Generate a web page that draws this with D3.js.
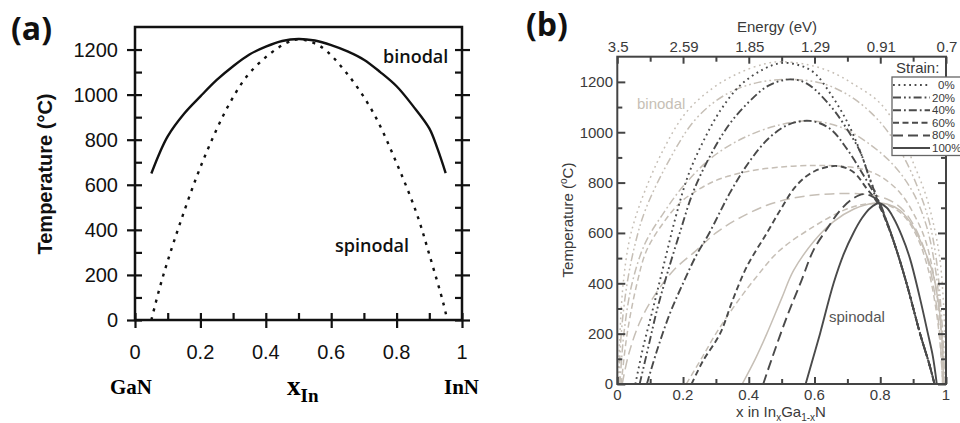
<!DOCTYPE html>
<html>
<head>
<meta charset="utf-8">
<script src="https://cdn.jsdelivr.net/npm/d3@7"></script>
<style>
  body { margin: 0; background: #fff; }
  svg { display: block; }
</style>
</head>
<body>
<div id="chart"></div>
<script>
// ---- panel (a) data: [x, T] ----
let aBinodal = [[0.05,650],[0.075,740],[0.1,815],[0.15,915],[0.2,992],[0.25,1065],[0.3,1126],[0.35,1178],[0.4,1213],[0.45,1238],[0.5,1247],[0.55,1240],[0.6,1220],[0.65,1192],[0.7,1155],[0.75,1100],[0.8,1037],[0.85,950],[0.9,850],[0.925,760],[0.95,652]];
let aSpinodal = [[0.05,0],[0.075,140],[0.1,262],[0.138,430],[0.189,637],[0.24,815],[0.29,963],[0.342,1081],[0.403,1170],[0.464,1230],[0.5,1245],[0.566,1215],[0.647,1096],[0.729,919],[0.8,696],[0.861,474],[0.902,281],[0.943,74],[0.955,0]];
let aXTicks = [0, 0.2, 0.4, 0.6, 0.8, 1];
let aYTicks = [0, 200, 400, 600, 800, 1000, 1200];

// ---- panel (b) data ----
let strainLabels = ["0%", "20%", "40%", "60%", "80%", "100%"];
let energyLabels = ["3.5", "2.59", "1.85", "1.29", "0.91", "0.7"];
let bXTicks = [0, 0.2, 0.4, 0.6, 0.8, 1];
let bYTicks = [0, 200, 400, 600, 800, 1000, 1200];

let spinodal0 = [[0.055,0],[0.079,148],[0.105,281],[0.13,413],[0.155,546],[0.18,675],[0.216,830],[0.262,965],[0.313,1085],[0.373,1185],[0.444,1250],[0.5,1275],[0.556,1265],[0.6,1235],[0.65,1150],[0.7,1040],[0.74,920],[0.77,810],[0.795,725],[0.82,640],[0.85,530],[0.881,395],[0.922,196],[0.95,75],[0.965,0]];
let spinodal20 = [[0.068,0],[0.095,150],[0.12,290],[0.15,430],[0.19,600],[0.23,760],[0.28,900],[0.34,1030],[0.4,1120],[0.46,1185],[0.525,1210],[0.577,1193],[0.647,1107],[0.698,1014],[0.739,922],[0.769,810],[0.795,725],[0.82,640],[0.85,530],[0.881,395],[0.922,196],[0.95,75],[0.965,0]];
let spinodal40 = [[0.09,0],[0.12,130],[0.16,280],[0.2,400],[0.24,510],[0.28,600],[0.343,760],[0.4,880],[0.46,975],[0.52,1030],[0.587,1045],[0.647,1014],[0.698,935],[0.749,829],[0.79,736],[0.82,645],[0.85,530],[0.881,395],[0.922,196],[0.95,75],[0.965,0]];
let spinodal60 = [[0.226,0],[0.26,90],[0.313,201],[0.35,330],[0.394,466],[0.455,600],[0.5,700],[0.546,790],[0.6,845],[0.668,866],[0.718,842],[0.759,776],[0.79,723],[0.82,640],[0.85,530],[0.881,395],[0.922,196],[0.95,75],[0.965,0]];
let spinodal80 = [[0.444,0],[0.47,100],[0.516,267],[0.56,410],[0.597,532],[0.64,620],[0.678,690],[0.715,735],[0.749,754],[0.775,745],[0.795,725],[0.82,645],[0.85,530],[0.881,395],[0.922,196],[0.95,75],[0.965,0]];
let spinodal100 = [[0.573,0],[0.595,100],[0.617,201],[0.658,400],[0.69,520],[0.718,599],[0.745,660],[0.769,698],[0.795,718],[0.82,700],[0.84,660],[0.865,590],[0.89,500],[0.92,345],[0.945,200],[0.96,110],[0.972,0]];

let binodal0 = [[0.003,0],[0.008,200],[0.018,400],[0.035,560],[0.055,660],[0.085,770],[0.136,920],[0.207,1075],[0.29,1175],[0.37,1235],[0.45,1272],[0.5,1280],[0.58,1268],[0.65,1240],[0.72,1190],[0.8,1115],[0.86,1000],[0.9,880],[0.94,745],[0.967,605],[0.982,490],[0.992,330],[0.997,160],[1.0,0]];
let binodal20 = [[0.005,0],[0.012,200],[0.03,400],[0.055,560],[0.085,690],[0.15,870],[0.237,1050],[0.33,1150],[0.42,1195],[0.525,1210],[0.62,1195],[0.7,1150],[0.77,1080],[0.83,990],[0.88,880],[0.92,760],[0.95,640],[0.97,500],[0.983,330],[0.992,150],[0.996,0]];
let binodal40 = [[0.008,0],[0.02,200],[0.045,400],[0.085,560],[0.136,670],[0.2,785],[0.288,900],[0.38,975],[0.49,1028],[0.587,1045],[0.68,1020],[0.76,960],[0.84,870],[0.9,760],[0.94,630],[0.965,480],[0.98,320],[0.99,150],[0.994,0]];
let binodal60 = [[0.012,0],[0.03,200],[0.06,400],[0.089,530],[0.14,640],[0.191,720],[0.25,775],[0.313,815],[0.4,845],[0.5,862],[0.6,868],[0.668,866],[0.74,855],[0.8,825],[0.86,760],[0.9,680],[0.935,580],[0.96,450],[0.978,300],[0.988,150],[0.992,0]];
let binodal80 = [[0.015,0],[0.035,120],[0.07,250],[0.115,355],[0.17,450],[0.237,527],[0.3,600],[0.359,650],[0.455,710],[0.55,742],[0.65,755],[0.749,754],[0.82,735],[0.87,690],[0.91,610],[0.945,490],[0.968,340],[0.982,180],[0.99,0]];
let binodalExtra = [[0.21,0],[0.26,110],[0.3,200],[0.359,315],[0.42,420],[0.491,527],[0.597,625],[0.698,695],[0.76,715],[0.82,712],[0.87,670],[0.91,590],[0.945,460],[0.968,310],[0.982,160],[0.99,0]];
let binodal100 = [[0.38,0],[0.42,100],[0.455,200],[0.5,340],[0.536,450],[0.6,570],[0.658,645],[0.72,695],[0.78,718],[0.82,715],[0.86,690],[0.9,625],[0.935,530],[0.96,440],[0.977,320],[0.987,190],[0.993,0]];

let spinodals = [spinodal0, spinodal20, spinodal40, spinodal60, spinodal80, spinodal100];
let binodals = [binodal0, binodal20, binodal40, binodal60, binodal80, binodal100];

// line styles per strain
let dashes = ["1.8,3.6", "8,3,1.8,3,1.8,3", "8,3,1.8,3", "6,3.5", "10,5", null];
let darkColor = "#4a4a4a";
let grayColor = "#c6bfb6";

let svg = d3.select("#chart").append("svg")
  .attr("width", 960)
  .attr("height", 423);

// ================= panel (a) =================
let ax = d3.scaleLinear().domain([0, 1]).range([135, 462]);
let ay = d3.scaleLinear().domain([0, 1300]).range([320, 27]);
let ga = svg.append("g");

let aLine = d3.line()
  .x(d => ax(d[0]))
  .y(d => ay(d[1]))
  .curve(d3.curveCatmullRom.alpha(0.5));

ga.append("path").datum(aBinodal)
  .attr("d", aLine)
  .attr("fill", "none")
  .attr("stroke", "#111")
  .attr("stroke-width", 2.4);

ga.append("path").datum(aSpinodal)
  .attr("d", aLine)
  .attr("fill", "none")
  .attr("stroke", "#111")
  .attr("stroke-width", 2.4)
  .attr("stroke-dasharray", "3,6");

// frame
ga.append("rect")
  .attr("x", ax(0)).attr("y", ay(1300))
  .attr("width", ax(1) - ax(0)).attr("height", ay(0) - ay(1300))
  .attr("fill", "none").attr("stroke", "#111").attr("stroke-width", 2.5);

// ticks (a): major ones cross the frame, minor ones inside
let aMinorX = d3.range(0.1, 1, 0.2);
let aMinorY = d3.range(100, 1300, 200);
ga.append("g").attr("transform", `translate(0,${ay(0)})`)
  .call(d3.axisBottom(ax).tickValues(aXTicks).tickSize(8).tickFormat(""))
  .call(g => g.select(".domain").remove());
ga.append("g").attr("transform", `translate(0,${ay(0)})`)
  .call(d3.axisBottom(ax).tickValues(aXTicks.concat(aMinorX)).tickSize(-7).tickFormat(""))
  .call(g => g.select(".domain").remove());
ga.append("g").attr("transform", `translate(${ax(0)},0)`)
  .call(d3.axisLeft(ay).tickValues(aYTicks).tickSize(8).tickFormat(""))
  .call(g => g.select(".domain").remove());
ga.append("g").attr("transform", `translate(${ax(0)},0)`)
  .call(d3.axisLeft(ay).tickValues(aYTicks.concat(aMinorY)).tickSize(-7).tickFormat(""))
  .call(g => g.select(".domain").remove());
ga.append("g").attr("transform", `translate(${ax(1)},0)`)
  .call(d3.axisRight(ay).tickValues(aYTicks).tickSize(8).tickFormat(""))
  .call(g => g.select(".domain").remove());
ga.append("g").attr("transform", `translate(${ax(1)},0)`)
  .call(d3.axisRight(ay).tickValues(aYTicks.concat(aMinorY)).tickSize(-7).tickFormat(""))
  .call(g => g.select(".domain").remove());
ga.selectAll(".tick line").attr("stroke", "#111").attr("stroke-width", 2.2);

// tick labels (a)
ga.selectAll(".ylab").data(aYTicks).enter().append("text")
  .attr("x", 118).attr("y", d => ay(d)).attr("dy", "0.36em")
  .attr("text-anchor", "end")
  .attr("font-family", "Liberation Sans, Arial, sans-serif")
  .attr("font-size", 20).attr("fill", "#111")
  .text(d => d);
ga.selectAll(".xlab").data(aXTicks).enter().append("text")
  .attr("x", d => ax(d)).attr("y", 359)
  .attr("text-anchor", "middle")
  .attr("font-family", "Liberation Sans, Arial, sans-serif")
  .attr("font-size", 20).attr("fill", "#111")
  .text(d => d);

ga.append("text")
  .attr("transform", "translate(52,174) rotate(-90)")
  .attr("text-anchor", "middle")
  .attr("font-family", "Liberation Sans, Arial, sans-serif")
  .attr("font-size", 20).attr("font-weight", "bold").attr("fill", "#111")
  .text("Temperature (°C)");

let serif = "Liberation Serif, Times New Roman, serif";
ga.append("text").attr("x", 110).attr("y", 394)
  .attr("font-family", serif).attr("font-weight", "bold").attr("font-size", 21)
  .text("GaN");
ga.append("text").attr("x", 444).attr("y", 394)
  .attr("font-family", serif).attr("font-weight", "bold").attr("font-size", 21)
  .text("InN");
let xIn = ga.append("text").attr("x", 287).attr("y", 395)
  .attr("font-family", serif).attr("font-weight", "bold").attr("font-size", 27);
xIn.append("tspan").text("x");
xIn.append("tspan").attr("dy", 7).attr("font-size", 19).text("In");

ga.append("text").attr("x", 383).attr("y", 63)
  .attr("font-family", "Open Sans, sans-serif").attr("font-weight", 600)
  .attr("font-size", 18).attr("fill", "#111").text("binodal");
ga.append("text").attr("x", 335).attr("y", 252)
  .attr("font-family", "Open Sans, sans-serif").attr("font-weight", 600)
  .attr("font-size", 18).attr("fill", "#111").text("spinodal");

svg.append("text").attr("x", 11).attr("y", 40)
  .attr("font-family", "Open Sans, sans-serif").attr("font-weight", "bold")
  .attr("font-size", 32).attr("fill", "#111").text("(a)");

// ================= panel (b) =================
let bx = d3.scaleLinear().domain([0, 1]).range([617.3, 946]);
let by = d3.scaleLinear().domain([0, 1300]).range([384, 56.7]);
let gb = svg.append("g");

svg.append("defs").append("clipPath").attr("id", "clipb")
  .append("rect")
  .attr("x", bx(0)).attr("y", by(1300))
  .attr("width", bx(1) - bx(0)).attr("height", by(0) - by(1300));

let bLine = d3.line()
  .x(d => bx(d[0]))
  .y(d => by(d[1]))
  .curve(d3.curveCatmullRom.alpha(0.5));

let curves = gb.append("g").attr("clip-path", "url(#clipb)");

// binodals (light)
binodals.forEach((b, i) => {
  curves.append("path").datum(b)
    .attr("d", bLine)
    .attr("fill", "none")
    .attr("stroke", grayColor)
    .attr("stroke-width", 1.5)
    .attr("stroke-dasharray", dashes[i]);
});
curves.append("path").datum(binodalExtra)
  .attr("d", bLine)
  .attr("fill", "none")
  .attr("stroke", grayColor)
  .attr("stroke-width", 1.5)
  .attr("stroke-dasharray", "6,3.5");

// spinodals (dark)
spinodals.forEach((s, i) => {
  curves.append("path").datum(s)
    .attr("d", bLine)
    .attr("fill", "none")
    .attr("stroke", darkColor)
    .attr("stroke-width", 1.9)
    .attr("stroke-dasharray", dashes[i]);
});

// frame
gb.append("rect")
  .attr("x", bx(0)).attr("y", by(1300))
  .attr("width", bx(1) - bx(0)).attr("height", by(0) - by(1300))
  .attr("fill", "none").attr("stroke", "#444").attr("stroke-width", 2);

// ticks (b), all inward
let bMinorX = d3.range(0.1, 1, 0.2);
let bMinorY = d3.range(100, 1300, 200);
let tickG = gb.append("g");
tickG.append("g").attr("transform", `translate(0,${by(0)})`)
  .call(d3.axisBottom(bx).tickValues(bXTicks).tickSize(-7).tickFormat(""));
tickG.append("g").attr("transform", `translate(0,${by(0)})`)
  .call(d3.axisBottom(bx).tickValues(bMinorX).tickSize(-5).tickFormat(""));
tickG.append("g").attr("transform", `translate(0,${by(1300)})`)
  .call(d3.axisTop(bx).tickValues(bXTicks).tickSize(-7).tickFormat(""));
tickG.append("g").attr("transform", `translate(0,${by(1300)})`)
  .call(d3.axisTop(bx).tickValues(bMinorX).tickSize(-5).tickFormat(""));
tickG.append("g").attr("transform", `translate(${bx(0)},0)`)
  .call(d3.axisLeft(by).tickValues(bYTicks).tickSize(-8).tickFormat(""));
tickG.append("g").attr("transform", `translate(${bx(0)},0)`)
  .call(d3.axisLeft(by).tickValues(bMinorY).tickSize(-5).tickFormat(""));
tickG.append("g").attr("transform", `translate(${bx(1)},0)`)
  .call(d3.axisRight(by).tickValues(bYTicks).tickSize(-8).tickFormat(""));
tickG.append("g").attr("transform", `translate(${bx(1)},0)`)
  .call(d3.axisRight(by).tickValues(bMinorY).tickSize(-5).tickFormat(""));
tickG.selectAll(".domain").remove();
tickG.selectAll(".tick line").attr("stroke", "#444").attr("stroke-width", 2);

let sans = "Liberation Sans, Arial, sans-serif";
let txtColor = "#3a3a3a";

gb.selectAll(".bylab").data(bYTicks).enter().append("text")
  .attr("x", 613).attr("y", d => by(d)).attr("dy", "0.36em")
  .attr("text-anchor", "end")
  .attr("font-family", sans).attr("font-size", 15).attr("fill", txtColor)
  .text(d => d);
gb.selectAll(".bxlab").data(bXTicks).enter().append("text")
  .attr("x", d => bx(d)).attr("y", 400)
  .attr("text-anchor", "middle")
  .attr("font-family", sans).attr("font-size", 15).attr("fill", txtColor)
  .text(d => d);
gb.selectAll(".belab").data(bXTicks).enter().append("text")
  .attr("x", d => bx(d) + 1).attr("y", 52)
  .attr("text-anchor", "middle")
  .attr("font-family", sans).attr("font-size", 15).attr("fill", txtColor)
  .text((d, i) => energyLabels[i]);

gb.append("text").attr("x", 777).attr("y", 32)
  .attr("text-anchor", "middle")
  .attr("font-family", sans).attr("font-size", 15).attr("fill", txtColor)
  .text("Energy (eV)");

let xl = gb.append("text").attr("x", 781).attr("y", 417)
  .attr("text-anchor", "middle")
  .attr("font-family", sans).attr("font-size", 15).attr("fill", txtColor);
xl.append("tspan").text("x in In");
xl.append("tspan").attr("dy", 4).attr("font-size", 10).text("x");
xl.append("tspan").attr("dy", -4).text("Ga");
xl.append("tspan").attr("dy", 4).attr("font-size", 10).text("1-x");
xl.append("tspan").attr("dy", -4).text("N");

let yl = gb.append("text")
  .attr("transform", "translate(573,220) rotate(-90)")
  .attr("text-anchor", "middle")
  .attr("font-family", sans).attr("font-size", 15).attr("fill", txtColor);
yl.append("tspan").text("Temperature (");
yl.append("tspan").attr("dy", -6).attr("font-size", 10).text("o");
yl.append("tspan").attr("dy", 6).text("C)");

gb.append("text").attr("x", 637).attr("y", 109)
  .attr("font-family", sans).attr("font-size", 15).attr("fill", grayColor)
  .text("binodal");
gb.append("text").attr("x", 829).attr("y", 322)
  .attr("font-family", sans).attr("font-size", 15).attr("fill", "#555")
  .text("spinodal");

// legend
gb.append("text").attr("x", 896).attr("y", 73)
  .attr("font-family", sans).attr("font-size", 15).attr("fill", txtColor)
  .text("Strain:");
gb.append("rect")
  .attr("x", 892).attr("y", 77).attr("width", 90).attr("height", 78.5)
  .attr("fill", "#fff").attr("stroke", "#666").attr("stroke-width", 1.3);
let legRow = d3.scaleLinear().domain([0, 5]).range([85, 148]);
strainLabels.forEach((s, i) => {
  gb.append("line")
    .attr("x1", 893).attr("x2", 930)
    .attr("y1", legRow(i)).attr("y2", legRow(i))
    .attr("stroke", darkColor).attr("stroke-width", 2)
    .attr("stroke-dasharray", dashes[i]);
  gb.append("text")
    .attr("x", i === 0 ? 938 : 932).attr("y", legRow(i)).attr("dy", "0.34em")
    .attr("font-family", sans).attr("font-size", 11.5).attr("fill", txtColor)
    .text(s);
});

svg.append("text").attr("x", 526).attr("y", 36)
  .attr("font-family", "Open Sans, sans-serif").attr("font-weight", "bold")
  .attr("font-size", 32).attr("fill", "#111").text("(b)");
</script>
</body>
</html>
